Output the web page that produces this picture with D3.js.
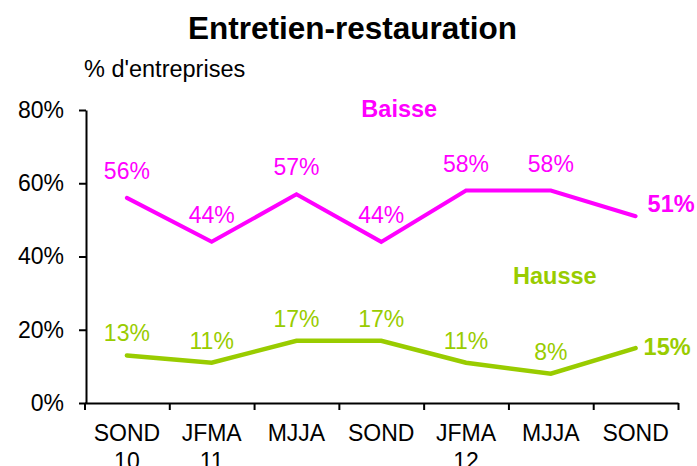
<!DOCTYPE html>
<html>
<head>
<meta charset="utf-8">
<script src="https://cdn.jsdelivr.net/npm/d3@7"></script>
<style>
  html, body { margin: 0; padding: 0; background: #fff; }
  svg { display: block; font-family: "Liberation Sans", Arial, sans-serif; }
</style>
</head>
<body>
<svg id="chart" width="697" height="466"></svg>
<script>
// ---- data ----
const periods = ["SOND", "JFMA", "MJJA", "SOND", "JFMA", "MJJA", "SOND"];
const years   = ["10", "11", "", "", "12", "", ""];
const baisse  = [56, 44, 57, 44, 58, 58, 51];
const hausse  = [13, 11, 17, 17, 11, 8, 15];
const yTicks  = [0, 20, 40, 60, 80];

const title = "Entretien-restauration";
const subtitle = "% d'entreprises";

// ---- layout ----
const svg = d3.select("#chart");
const W = 697, H = 466;
const x0 = 84.5, x1 = 678, yTop = 110, yBot = 403;

const x = d3.scaleBand().domain(d3.range(periods.length)).range([x0, x1]).padding(0);
const xb = d3.scaleLinear().domain([0, periods.length]).range([x0, x1]);
const y = d3.scaleLinear().domain([0, 80]).range([yBot, yTop]);
const cx = i => x(i) + x.bandwidth() / 2;

const series = [
  { name: "Baisse", values: baisse, color: "#FF00FF", width: 4, labelDy: -19, endDx: 12, endDy: -4,
    legendPos: () => [cx(3) + 18, y(80) + 7] },
  { name: "Hausse", values: hausse, color: "#99CC00", width: 4.5, labelDy: -14, endDx: 8, endDy: 7,
    legendPos: () => [cx(5) + 4, y(32.5) + 0] }
];

// title
svg.append("text")
  .attr("x", 352.5).attr("y", 39)
  .attr("text-anchor", "middle")
  .attr("font-size", 31.5).attr("font-weight", "bold")
  .attr("fill", "#000")
  .text(title);

svg.append("text")
  .attr("x", 84).attr("y", 77)
  .attr("font-size", 23.5)
  .attr("fill", "#000")
  .text(subtitle);

// y axis
const yAxis = svg.append("g")
  .attr("transform", `translate(${x0 + 1.5},0)`)
  .call(d3.axisLeft(y).tickValues(yTicks).tickFormat(d => d + "%").tickSize(7).tickSizeOuter(0).tickPadding(15));
yAxis.selectAll("path, line").attr("stroke", "#000").attr("stroke-width", 2);
yAxis.selectAll("text").attr("font-size", 23).attr("fill", "#000")
  .attr("font-family", "'Liberation Sans', Arial, sans-serif");

// x axis (boundary ticks)
const xAxis = svg.append("g")
  .attr("transform", `translate(0,${yBot})`)
  .call(d3.axisBottom(xb).tickValues(d3.range(periods.length + 1)).tickFormat("").tickSize(7).tickSizeOuter(0));
xAxis.selectAll("path, line").attr("stroke", "#000").attr("stroke-width", 2);

// x labels
const xl = svg.append("g").selectAll("text")
  .data(periods)
  .join("text")
  .attr("x", (d, i) => cx(i))
  .attr("y", 441)
  .attr("text-anchor", "middle")
  .attr("font-size", 23)
  .attr("fill", "#000");
xl.append("tspan").attr("x", (d, i) => cx(i)).text(d => d);
xl.append("tspan").attr("x", (d, i) => cx(i)).attr("dy", 28).text((d, i) => years[i]);

// lines
const line = d3.line().x((d, i) => cx(i)).y(d => y(d));
series.forEach(s => {
  svg.append("path")
    .datum(s.values)
    .attr("d", line)
    .attr("fill", "none")
    .attr("stroke", s.color)
    .attr("stroke-width", s.width)
    .attr("stroke-linejoin", "miter")
    .attr("stroke-linecap", "round");

  const n = s.values.length;
  svg.append("g").selectAll("text")
    .data(s.values.slice(0, n - 1))
    .join("text")
    .attr("x", (d, i) => cx(i))
    .attr("y", d => y(d) + s.labelDy)
    .attr("text-anchor", "middle")
    .attr("font-size", 23)
    .attr("fill", s.color)
    .text(d => d + "%");

  svg.append("text")
    .attr("x", cx(n - 1) + s.endDx)
    .attr("y", y(s.values[n - 1]) + s.endDy)
    .attr("font-size", 23.5)
    .attr("font-weight", "bold")
    .attr("fill", s.color)
    .text(s.values[n - 1] + "%");

  const [lx, ly] = s.legendPos();
  svg.append("text")
    .attr("x", lx).attr("y", ly)
    .attr("text-anchor", "middle")
    .attr("font-size", 23.5)
    .attr("font-weight", "bold")
    .attr("fill", s.color)
    .text(s.name);
});
</script>
</body>
</html>
